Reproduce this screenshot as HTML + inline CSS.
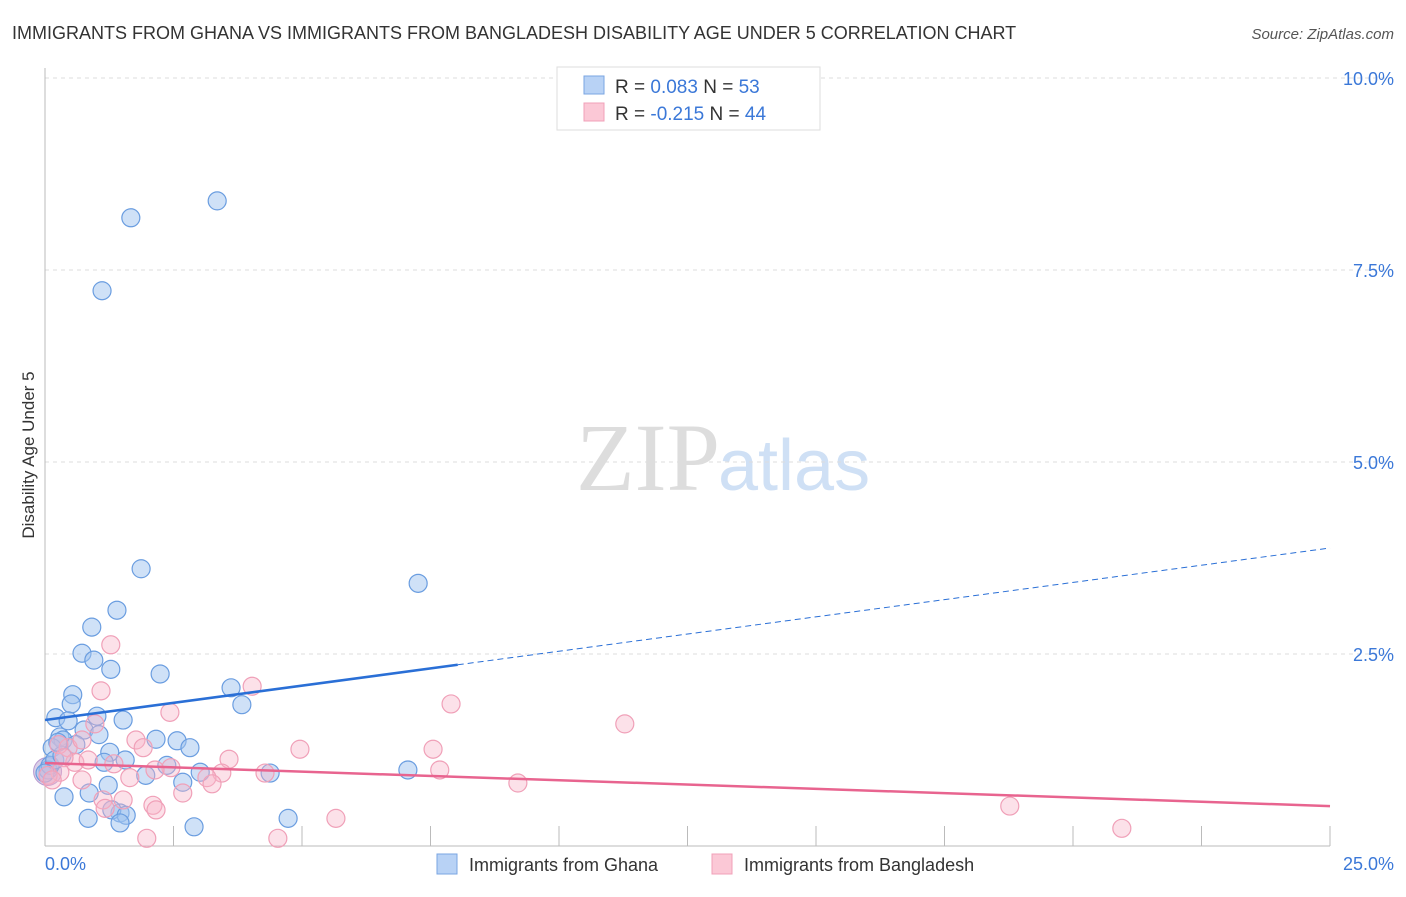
<!DOCTYPE html>
<html><head><meta charset="utf-8"><style>
body{margin:0;background:#fff;font-family:"Liberation Sans",sans-serif;}
</style></head><body>
<svg width="1406" height="892" xmlns="http://www.w3.org/2000/svg">
<text x="12" y="39" font-size="18" fill="#333">IMMIGRANTS FROM GHANA VS IMMIGRANTS FROM BANGLADESH DISABILITY AGE UNDER 5 CORRELATION CHART</text>
<text x="1394" y="39" font-size="15" fill="#555" font-style="italic" text-anchor="end">Source: ZipAtlas.com</text>
<text x="720" y="490" font-size="96" fill="#ddd" font-family="Liberation Serif,serif" text-anchor="end">ZIP</text>
<text x="718" y="490" font-size="72" fill="#cfe0f5">atlas</text>
<g id="grid"></g>
<g id="axes"></g>
<g id="pts"></g>
<g id="lines"></g>
<text x="34" y="455" font-size="17" fill="#333" text-anchor="middle" transform="rotate(-90 34 455)">Disability Age Under 5</text>
<text x="45" y="870" font-size="18" fill="#3b78d8">0.0%</text>
<text x="1394" y="870" font-size="18" fill="#3b78d8" text-anchor="end">25.0%</text>
<g>
<rect x="557" y="67" width="263" height="63" fill="#fff" stroke="#ddd"/>
<rect x="584" y="76" width="20" height="18" fill="#b8d2f5" stroke="#7aa5e2"/>
<rect x="584" y="103" width="20" height="18" fill="#fbc8d6" stroke="#f0a0b8"/>
<text x="615" y="93" font-size="19" fill="#333">R = <tspan fill="#3b78d8">0.083</tspan>   N = <tspan fill="#3b78d8">53</tspan></text>
<text x="615" y="120" font-size="19" fill="#333">R = <tspan fill="#3b78d8">-0.215</tspan>   N = <tspan fill="#3b78d8">44</tspan></text>
</g>
<g>
<rect x="437" y="854" width="20" height="20" fill="#b8d2f5" stroke="#7aa5e2"/>
<text x="469" y="871" font-size="18" fill="#333">Immigrants from Ghana</text>
<rect x="712" y="854" width="20" height="20" fill="#fbc8d6" stroke="#f0a0b8"/>
<text x="744" y="871" font-size="18" fill="#333">Immigrants from Bangladesh</text>
</g>
</svg>
<script>
const yTicks=[2.5,5,7.5,10];
const yTickLabels=["2.5%","5.0%","7.5%","10.0%"];
const xTicks=[0,2.5,5,7.5,10,12.5,15,17.5,20,22.5,25];
const ghanaX=[1.67,3.35,1.11,1.87,7.26,1.40,0.91,0.72,0.95,1.28,2.24,3.62,3.83,0.54,0.51,1.01,1.52,0.21,0.45,0.29,0.76,1.05,2.16,2.57,1.26,2.82,0.35,0.14,2.37,1.56,1.15,1.96,3.02,4.38,7.06,2.68,1.23,0.86,0.37,1.46,1.30,1.58,0.84,1.46,2.90,4.73,0.06,0.10,0.19,0.33,0.60,0.0,0.25];
const ghanaY=[8.18,8.40,7.23,3.61,3.42,3.07,2.85,2.51,2.42,2.30,2.24,2.06,1.84,1.97,1.85,1.69,1.64,1.67,1.63,1.42,1.51,1.45,1.39,1.37,1.22,1.28,1.38,1.28,1.05,1.12,1.09,0.92,0.96,0.95,0.99,0.83,0.79,0.69,0.64,0.43,0.47,0.40,0.36,0.30,0.25,0.36,0.99,1.05,1.12,1.18,1.32,0.95,1.35];
const bangX=[1.28,1.09,4.03,7.90,11.28,2.43,0.97,4.96,7.55,0.45,0.27,0.72,1.77,1.91,3.58,1.34,0.58,0.84,0.37,2.45,4.28,7.68,3.44,3.15,1.65,2.14,2.68,9.20,1.13,2.10,1.52,2.16,1.17,18.77,20.95,1.98,4.53,5.66,0.29,0.06,0.14,0.72,3.25];
const bangY=[2.62,2.02,2.08,1.85,1.59,1.74,1.59,1.26,1.26,1.28,1.32,1.38,1.38,1.28,1.13,1.07,1.09,1.12,1.15,1.02,0.95,0.99,0.95,0.89,0.89,0.99,0.69,0.82,0.60,0.53,0.60,0.47,0.49,0.52,0.23,0.10,0.10,0.36,0.96,0.92,0.86,0.86,0.81];
const ghanaTrend=[1.64,3.88]; const ghanaSolidEnd=8.03;
const bangTrend=[1.08,0.52];
const X=v=>45+v*51.4, Y=v=>846-v*76.8;
const NS="http://www.w3.org/2000/svg";
function mk(p,t,a){const e=document.createElementNS(NS,t);for(const k in a)e.setAttribute(k,a[k]);document.getElementById(p).appendChild(e);return e;}
yTicks.forEach((t,i)=>{
 const g=mk('grid','line',{x1:45,x2:1395,y1:Y(t),y2:Y(t),stroke:'#ddd','stroke-dasharray':'4,4'});
 
 
 const l=mk('grid','text',{x:1394,y:Y(t)+7,'font-size':18,fill:'#3b78d8','text-anchor':'end'});
 l.textContent=yTickLabels[i];
 
 
});
const ya=mk('axes','line',{x1:45,x2:45,y1:68,y2:846,stroke:'#bbb'});


const xa=mk('axes','line',{x1:45,x2:1330,y1:846,y2:846,stroke:'#bbb'});


xTicks.forEach(t=>{const k=mk('axes','line',{x1:X(t),x2:X(t),y1:826,y2:846,stroke:'#bbb'});
 
 });
mk('pts','circle',{cx:X(0.05),cy:Y(0.97),r:14,fill:'rgba(180,160,210,0.5)',stroke:'#b99bd0'});
ghanaX.forEach((x,i)=>{const c=mk('pts','circle',{cx:X(x),cy:Y(ghanaY[i]),r:9,fill:'rgba(160,196,240,0.5)',stroke:'#6a9de0','stroke-width':1.2});
 
 });
bangX.forEach((x,i)=>{const c=mk('pts','circle',{cx:X(x),cy:Y(bangY[i]),r:9,fill:'rgba(248,180,200,0.4)',stroke:'#f0a0b8','stroke-width':1.2});
 
 });
const gy=x=>ghanaTrend[0]+(ghanaTrend[1]-ghanaTrend[0])*x/25;
const l1=mk('lines','line',{x1:X(0),y1:Y(gy(0)),x2:X(ghanaSolidEnd),y2:Y(gy(ghanaSolidEnd)),stroke:'#2a6fd6','stroke-width':2.5});


const l2=mk('lines','line',{x1:X(ghanaSolidEnd),y1:Y(gy(ghanaSolidEnd)),x2:X(25),y2:Y(gy(25)),stroke:'#2a6fd6','stroke-width':1,'stroke-dasharray':'6,4'});


const l3=mk('lines','line',{x1:X(0),y1:Y(bangTrend[0]),x2:X(25),y2:Y(bangTrend[1]),stroke:'#e8648f','stroke-width':2.5});


</script>
</body></html>
